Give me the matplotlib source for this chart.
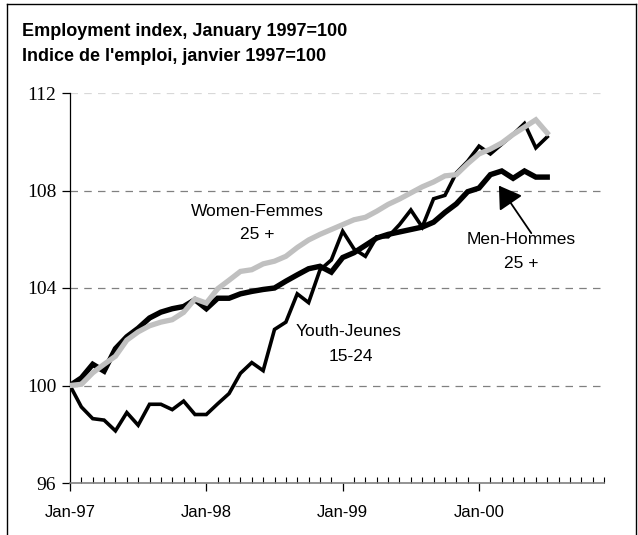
import numpy as np
import matplotlib
matplotlib.use("Agg")
import matplotlib.pyplot as plt
from matplotlib.lines import Line2D

# monthly index values, Jan-97 .. Jul-00
men = [100.0, 100.31, 100.87, 100.59, 101.51, 102.0, 102.35, 102.77, 103.01, 103.15,
       103.24, 103.52, 103.15, 103.58, 103.58, 103.76, 103.86, 103.94, 104.0, 104.28,
       104.54, 104.79, 104.89, 104.65, 105.25, 105.45, 105.75, 106.05, 106.2, 106.3,
       106.4, 106.5, 106.7, 107.1, 107.45, 107.95, 108.1, 108.65, 108.8, 108.5,
       108.8, 108.55, 108.55]
women = [100.0, 100.05, 100.52, 100.87, 101.2, 101.86, 102.2, 102.45, 102.6, 102.7,
         103.0, 103.55, 103.38, 103.97, 104.32, 104.68, 104.75, 104.99, 105.1, 105.3,
         105.66, 105.97, 106.2, 106.4, 106.6, 106.8, 106.9, 107.15, 107.43, 107.65,
         107.9, 108.15, 108.35, 108.6, 108.65, 109.1, 109.5, 109.7, 109.95, 110.3,
         110.6, 110.9, 110.36]
youth = [100.0, 99.12, 98.64, 98.58, 98.14, 98.89, 98.37, 99.23, 99.23, 99.01,
         99.36, 98.81, 98.81, 99.25, 99.67, 100.5, 100.94, 100.61, 102.3, 102.6,
         103.76, 103.4, 104.74, 105.15, 106.33, 105.6, 105.3, 106.1, 106.1, 106.6,
         107.2, 106.5, 107.66, 107.8, 108.72, 109.2, 109.82, 109.5, 109.9, 110.3,
         110.75, 109.75, 110.2]

year_ticks = [0, 12, 24, 36]
year_labels = ["Jan-97", "Jan-98", "Jan-99", "Jan-00"]
y_ticks = [96, 100, 104, 108, 112]

months = np.arange(len(men))

fig = plt.figure(figsize=(6.38, 5.35), dpi=100)
ax = fig.add_axes([70/638, 1-483/535, (604-70)/638, (483-93)/535])

# grid
for yv in [100, 104, 108]:
    ax.axhline(yv, color="#808080", lw=0.9, ls=(0, (6, 5)), zorder=1)
ax.axhline(112, color="#d8d8d8", lw=0.9, ls=(0, (6, 5)), zorder=1)

ax.plot(months, youth, color="black", lw=2.6, solid_joinstyle="miter", zorder=3)
ax.plot(months, men, color="black", lw=3.9, solid_joinstyle="miter", zorder=4)
ax.plot(months, women, color="#c0c0c0", lw=3.8, solid_joinstyle="miter", zorder=5)

ax.set_xlim(0, 47)
ax.set_ylim(96, 112)

for s in ["top", "right"]:
    ax.spines[s].set_visible(False)
ax.spines["left"].set_linewidth(0.9)
ax.spines["bottom"].set_color("#808080")
ax.spines["bottom"].set_linewidth(1.2)

ax.set_yticks(y_ticks)
ax.set_yticklabels([str(v) for v in y_ticks], fontfamily="Liberation Serif", fontsize=14)
ax.tick_params(axis="y", direction="out", length=6, width=0.9, pad=4)

ax.set_xticks(year_ticks)
ax.set_xticklabels(year_labels, fontfamily="Liberation Sans", fontsize=12)
ax.set_xticks([m for m in range(1, 48) if m % 12 != 0], minor=True)
ax.tick_params(axis="x", which="major", direction="out", length=6, width=0.9, pad=10)
ax.tick_params(axis="x", which="minor", direction="in", length=4, width=0.8)

lab = dict(fontfamily="Liberation Sans", fontsize=12.5, ha="center", va="center")
ax.text(16.5, 107.15, "Women-Femmes", **lab)
ax.text(16.5, 106.2, "25 +", **lab)
ax.text(39.7, 106.0, "Men-Hommes", **lab)
ax.text(39.7, 105.0, "25 +", **lab)
ax.text(24.5, 102.2, "Youth-Jeunes", **lab)
ax.text(24.7, 101.2, "15-24", **lab)

ax.annotate("", xy=(37.75, 108.2), xytext=(40.6, 106.25),
            arrowprops=dict(arrowstyle="-|>,head_length=1.35,head_width=0.85",
                            color="black", lw=1.3, shrinkA=0, shrinkB=0))

fig.text(22/638, 1-31/535, "Employment index, January 1997=100",
         fontfamily="Liberation Sans", fontweight="bold", fontsize=13, va="center")
fig.text(22/638, 1-57/535, "Indice de l'emploi, janvier 1997=100",
         fontfamily="Liberation Sans", fontweight="bold", fontsize=13, va="center")

# outer frame
fig.add_artist(Line2D([7/638, 7/638], [0, 1-4/535], transform=fig.transFigure, color="black", lw=1))
fig.add_artist(Line2D([7/638, 636/638], [1-4/535, 1-4/535], transform=fig.transFigure, color="black", lw=1))
fig.add_artist(Line2D([636/638, 636/638], [1-4/535, 0], transform=fig.transFigure, color="black", lw=1))

fig.savefig("out.png", dpi=100)
